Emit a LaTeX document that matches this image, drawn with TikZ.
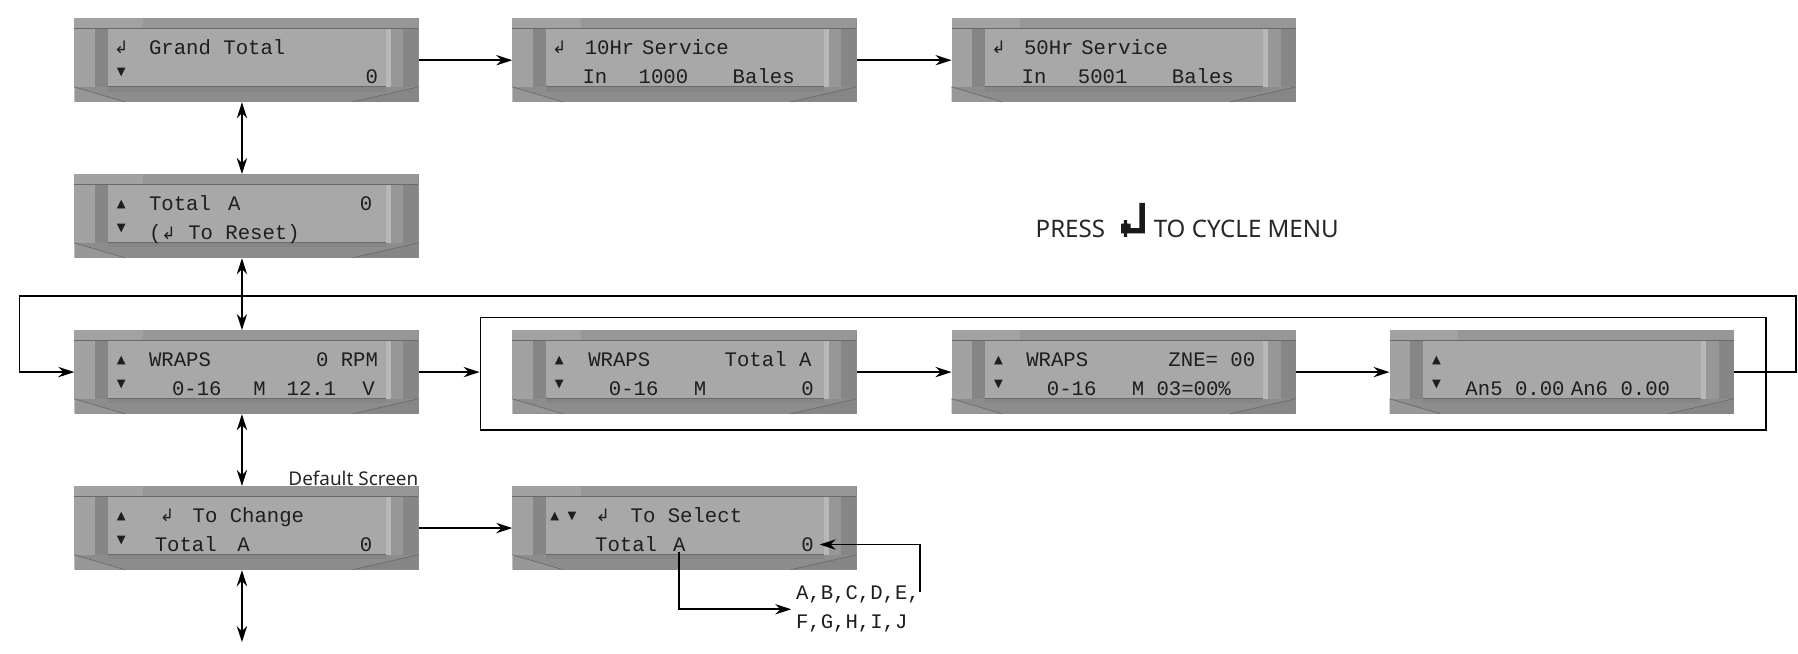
\documentclass[tikz,border=0pt]{standalone}
\usepackage{fontspec}
\usetikzlibrary{arrows.meta,calc}
\newfontfamily\lcdfont{Liberation Mono}
\newfontfamily\symfam{DejaVu Sans}
\newfontfamily\labfont{Noto Sans}
\newcommand{\retarr}{{\symfam\fontsize{15}{15}\selectfont ↲}}
\newcommand{\uparr}{{\symfam\fontsize{10}{10}\selectfont ▲}}
\newcommand{\dnarr}{{\symfam\fontsize{10}{10}\selectfont ▼}}
\definecolor{lcdframe}{HTML}{8D8D8D}
\definecolor{lcdtop}{HTML}{979797}
\definecolor{lcdscreen}{HTML}{A8A8A8}
\definecolor{lcdlight}{HTML}{A2A2A2}
\definecolor{lcddark}{HTML}{868686}
\definecolor{lcdedge}{HTML}{6A6A6A}
\definecolor{lcdink}{HTML}{1E1E1E}
% bezel and screen of one lcd box, drawn over its node
\newcommand{\lcdface}[1]{%
  \begin{scope}[shift={(#1.north west)}]
    \fill[lcdtop] (0,0) rectangle (300,9);
    \fill[lcdlight] (0,0) rectangle (60,9);
    \fill[lcdlight] (0,9) rectangle (18,60);
    \fill[lcddark] (18,9) rectangle (29.5,60);
    \fill[lcdscreen] (29.5,9) rectangle (272,60);
    \fill[white!18!lcdscreen] (272,9) rectangle (276,60);
    \fill[lcdtop] (276,9) rectangle (287,60);
    \fill[lcddark] (287,9) rectangle (300,60);
    \fill[lcdtop] (0,60) -- (44,73) -- (0,73) -- cycle;
    \fill[lcddark] (300,60) -- (243,73) -- (300,73) -- cycle;
    \fill[lcddark] (29.5,60) rectangle (272,64);
    \draw[lcdedge, line width=0.8pt] (0,9) -- (300,9);
    \draw[lcdedge, line width=0.8pt] (29.5,60) -- (272,60);
    \draw[lcdedge, line width=0.6pt] (0,60) -- (44,73);
    \draw[lcdedge, line width=0.6pt] (300,60) -- (243,73);
  \end{scope}}

\begin{document}
\begin{tikzpicture}[x=1pt,y=-1pt,
    lcd/.style={rectangle, inner sep=0pt, minimum width=300pt, minimum height=73pt, fill=lcdframe},
    lcdtxt/.style={font=\lcdfont\fontsize{18}{18}\selectfont, text=lcdink, inner sep=0pt, anchor=base west},
    lcdtxtr/.style={lcdtxt, anchor=base east},
    lcdsym/.style={text=lcdink, inner sep=0pt, anchor=base},
    labtxt/.style={font=\labfont\fontsize{21}{21}\selectfont, text=black!85, inner sep=0pt, anchor=base west},
    conn/.style={line width=1.5pt, -{Stealth[length=14pt,width=9pt]}},
    twoway/.style={line width=1.5pt, {Stealth[length=14pt,width=9pt]}-{Stealth[length=14pt,width=9pt]}}
  ]
  \useasboundingbox (0,0) rectangle (1568,569.5);

  % lcd screens
  \node[lcd] (gt) at (215,52.5) {};
  \node[lcd] (s10) at (597,52.5) {};
  \node[lcd] (s50) at (980,52.5) {};
  \node[lcd] (ta) at (215,188.5) {};
  \node[lcd] (wr) at (215,324.5) {};
  \node[lcd] (wt) at (597,324.5) {};
  \node[lcd] (wz) at (980,324.5) {};
  \node[lcd] (an) at (1362,324.5) {};
  \node[lcd] (tc) at (215,460.5) {};
  \node[lcd] (ts) at (597,460.5) {};
  \foreach \b in {gt,s10,s50,ta,wr,wt,wz,an,tc,ts} {\lcdface{\b}}

  % grand total
  \node[lcdsym] (gt-r) at ($(gt.north west)+(41,31)$) {\retarr};
  \node[lcdtxt] (gt-a) at ($(gt.north west)+(65,32)$) {Grand Total};
  \node[lcdsym] (gt-d) at ($(gt.north west)+(41,50)$) {\dnarr};
  \node[lcdtxtr] (gt-b) at ($(gt.north west)+(265,57)$) {0};

  % service screens
  \node[lcdsym] (s10-r) at ($(s10.north west)+(41,31)$) {\retarr};
  \node[lcdtxt] (s10-a) at ($(s10.north west)+(63,32)$) {10Hr};
  \node[lcdtxt] (s10-b) at ($(s10.north west)+(113,32)$) {Service};
  \node[lcdtxt] (s10-c) at ($(s10.north west)+(61,57)$) {In};
  \node[lcdtxt] (s10-d) at ($(s10.north west)+(110,57)$) {1000};
  \node[lcdtxt] (s10-e) at ($(s10.north west)+(192,57)$) {Bales};
  \node[lcdsym] (s50-r) at ($(s50.north west)+(41,31)$) {\retarr};
  \node[lcdtxt] (s50-a) at ($(s50.north west)+(63,32)$) {50Hr};
  \node[lcdtxt] (s50-b) at ($(s50.north west)+(113,32)$) {Service};
  \node[lcdtxt] (s50-c) at ($(s50.north west)+(61,57)$) {In};
  \node[lcdtxt] (s50-d) at ($(s50.north west)+(110,57)$) {5001};
  \node[lcdtxt] (s50-e) at ($(s50.north west)+(192,57)$) {Bales};

  % total A
  \node[lcdsym] (ta-u) at ($(ta.north west)+(41,29)$) {\uparr};
  \node[lcdsym] (ta-d) at ($(ta.north west)+(41,50)$) {\dnarr};
  \node[lcdtxt] (ta-a) at ($(ta.north west)+(65,32)$) {Total};
  \node[lcdtxt] (ta-b) at ($(ta.north west)+(134,32)$) {A};
  \node[lcdtxtr] (ta-c) at ($(ta.north west)+(260,32)$) {0};
  \node[lcdtxt] (ta-e) at ($(ta.north west)+(65,57)$) {(\retarr{} To Reset)};

  % wraps / rpm
  \node[lcdsym] (wr-u) at ($(wr.north west)+(41,29)$) {\uparr};
  \node[lcdsym] (wr-d) at ($(wr.north west)+(41,50)$) {\dnarr};
  \node[lcdtxt] (wr-a) at ($(wr.north west)+(65,32)$) {WRAPS};
  \node[lcdtxtr] (wr-b) at ($(wr.north west)+(265,32)$) {0 RPM};
  \node[lcdtxt] (wr-c) at ($(wr.north west)+(85,57)$) {0-16};
  \node[lcdtxt] (wr-e) at ($(wr.north west)+(156,57)$) {M};
  \node[lcdtxt] (wr-f) at ($(wr.north west)+(185,57)$) {12.1};
  \node[lcdtxt] (wr-g) at ($(wr.north west)+(251,57)$) {V};

  \node[lcdsym] (wt-u) at ($(wt.north west)+(41,29)$) {\uparr};
  \node[lcdsym] (wt-d) at ($(wt.north west)+(41,50)$) {\dnarr};
  \node[lcdtxt] (wt-a) at ($(wt.north west)+(66,32)$) {WRAPS};
  \node[lcdtxt] (wt-b) at ($(wt.north west)+(185,32)$) {Total A};
  \node[lcdtxt] (wt-c) at ($(wt.north west)+(84,57)$) {0-16};
  \node[lcdtxt] (wt-e) at ($(wt.north west)+(158,57)$) {M};
  \node[lcdtxtr] (wt-f) at ($(wt.north west)+(263,57)$) {0};

  \node[lcdsym] (wz-u) at ($(wz.north west)+(41,29)$) {\uparr};
  \node[lcdsym] (wz-d) at ($(wz.north west)+(41,50)$) {\dnarr};
  \node[lcdtxt] (wz-a) at ($(wz.north west)+(65,32)$) {WRAPS};
  \node[lcdtxt] (wz-b) at ($(wz.north west)+(189,32)$) {ZNE= 00};
  \node[lcdtxt] (wz-c) at ($(wz.north west)+(83,57)$) {0-16};
  \node[lcdtxt] (wz-e) at ($(wz.north west)+(157,57)$) {M 03=00\%};

  \node[lcdsym] (an-u) at ($(an.north west)+(41,29)$) {\uparr};
  \node[lcdsym] (an-d) at ($(an.north west)+(41,50)$) {\dnarr};
  \node[lcdtxt] (an-a) at ($(an.north west)+(66,57)$) {An5 0.00};
  \node[lcdtxt] (an-b) at ($(an.north west)+(158,57)$) {An6 0.00};

  % change / select
  \node[lcdsym] (tc-u) at ($(tc.north west)+(41,29)$) {\uparr};
  \node[lcdsym] (tc-d) at ($(tc.north west)+(41,50)$) {\dnarr};
  \node[lcdsym] (tc-r) at ($(tc.north west)+(81,31)$) {\retarr};
  \node[lcdtxt] (tc-a) at ($(tc.north west)+(103,32)$) {To Change};
  \node[lcdtxt] (tc-b) at ($(tc.north west)+(70,57)$) {Total};
  \node[lcdtxt] (tc-c) at ($(tc.north west)+(142,57)$) {A};
  \node[lcdtxtr] (tc-e) at ($(tc.north west)+(260,57)$) {0};

  \node[lcdsym] (ts-u) at ($(ts.north west)+(37,29)$) {\uparr};
  \node[lcdsym] (ts-d) at ($(ts.north west)+(52,29)$) {\dnarr};
  \node[lcdsym] (ts-r) at ($(ts.north west)+(79,31)$) {\retarr};
  \node[lcdtxt] (ts-a) at ($(ts.north west)+(103,32)$) {To Select};
  \node[lcdtxt] (ts-b) at ($(ts.north west)+(72,57)$) {Total};
  \node[lcdtxt] (ts-A) at ($(ts.north west)+(140,57)$) {A};
  \node[lcdtxtr] (ts-z) at ($(ts.north west)+(263,57)$) {0};

  \node[lcdtxt, anchor=north west, align=left, inner sep=4pt, font=\lcdfont\fontsize{18}{25}\selectfont] (sel) at (690,507) {A,B,C,D,E,\\F,G,H,I,J};

  % labels
  \node[font=\labfont\fontsize{16.5}{16.5}\selectfont, text=black!85, anchor=east, inner sep=0pt] (dflt) at (365,417) {Default Screen};
  \node[labtxt] (press) at (903,207) {PRESS};
  \node[labtxt] (cycle) at (1006,207) {TO CYCLE MENU};
  \fill[black!90] (993.6,177) rectangle (998.5,203.5)
    (986,199) rectangle (998.5,203.5)
    (977.6,195) rectangle (986,203.5)
    (980,192) rectangle (983,206.5);

  % menu frame
  \node[draw, line width=1.5pt, inner sep=0pt, minimum width=1121pt, minimum height=98pt] (menu) at (979.5,326) {};

  % connectors
  \draw[conn] (gt) -- (s10);
  \draw[conn] (s10) -- (s50);
  \draw[twoway] ([xshift=-4pt]gt.south) -- ([xshift=-4pt]ta.north);
  \draw[twoway] ([xshift=-4pt]ta.south) -- ([xshift=-4pt]wr.north);
  \draw[twoway] ([xshift=-4pt]wr.south) -- ([xshift=-4pt]tc.north);
  \coordinate (tcend) at (211,560);
  \draw[twoway] ([xshift=-4pt]tc.south) -- (tcend);
  \draw[conn] (wr.east) -- (wr.east -| menu.west);
  \draw[conn] (wt) -- (wz);
  \draw[conn] (wz) -- (an);
  \coordinate (loopR) at (1566,258);
  \coordinate (loopL) at (17,258);
  \draw[conn] (an.east) -| (loopR) -- (loopL) |- (wr.west);
  \draw[conn] (tc) -- (ts);
  \draw[conn] (ts-A.south) |- (sel.west);
  \coordinate (selup) at (802,516);
  \draw[conn, shorten >=5pt] (selup) |- (ts-z.east);
\end{tikzpicture}
\end{document}
